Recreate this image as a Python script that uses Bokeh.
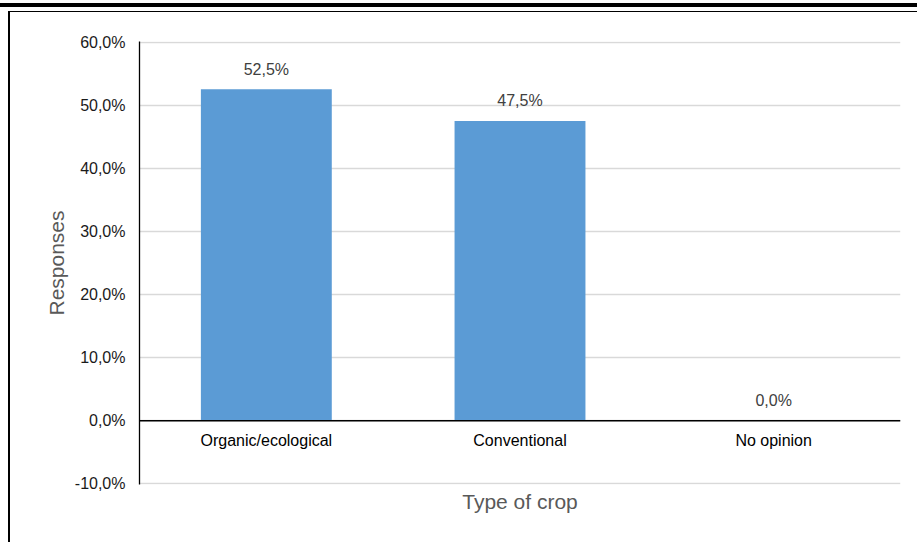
from bokeh.plotting import figure
from bokeh.models import (FactorRange, Range1d, FixedTicker, CustomJSTickFormatter,
                          ColumnDataSource, Span, Title)
from bokeh.core.properties import value
from bokeh.embed import file_html
from bokeh.resources import INLINE

categories = ["Organic/ecological", "Conventional", "No opinion"]
responses = [52.5, 47.5, 0.0]
y_ticks = [-10, 0, 10, 20, 30, 40, 50, 60]

labels = [f"{v:.1f}".replace(".", ",") + "%" for v in responses]
src = ColumnDataSource(dict(cat=categories, val=responses, lab=labels,
                            zero=[0] * len(categories)))

FONT = "Liberation Sans"
W, H = 917, 542

p = figure(width=W, height=H, x_range=FactorRange(*categories),
           y_range=Range1d(-10.08, 60.08), output_backend="svg", toolbar_location=None,
           min_border_left=139, min_border_right=W - 900, min_border_top=41,
           min_border_bottom=H - 484)
p.outline_line_color = None
p.background_fill_color = "white"
p.border_fill_color = None

# document frame lines drawn as CSS backgrounds behind the transparent border area
p.styles = {
    "background-color": "white",
    "background-image": "linear-gradient(#000,#000), linear-gradient(#000,#000), linear-gradient(#000,#000)",
    "background-size": "100% 4px, calc(100% - 8px) 1px, 2px calc(100% - 11px)",
    "background-position": "0 3px, 8px 11px, 8px 11px",
    "background-repeat": "no-repeat",
}

p.vbar(x="cat", top="val", width=0.516, source=src, color="#5b9bd5", line_color=None)

# value labels
p.text(x="cat", y="val", text="lab", source=src, text_align="center",
       text_baseline="middle", y_offset=-20, text_font=value(FONT),
       text_font_size="16px", text_color="#404040")
# category labels
p.text(x="cat", y="zero", text="cat", source=src, text_align="center",
       text_baseline="middle", y_offset=20, text_font=value(FONT),
       text_font_size="16px", text_color="#000000")

p.add_layout(Span(location=0, dimension="width", line_color="black", line_width=1.5))

p.xgrid.grid_line_color = None
p.ygrid.grid_line_color = "#d9d9d9"
p.ygrid.grid_line_width = 1.3

p.yaxis.ticker = FixedTicker(ticks=y_ticks)
p.yaxis.formatter = CustomJSTickFormatter(
    code="return tick.toFixed(1).replace('.', ',') + '%';")
p.yaxis.axis_line_color = "black"
p.yaxis.axis_line_width = 1.3
p.yaxis.major_tick_line_color = None
p.yaxis.minor_tick_line_color = None
p.yaxis.major_label_standoff = 8
p.yaxis.major_label_text_font = FONT
p.yaxis.major_label_text_font_size = "16px"
p.yaxis.major_label_text_color = "#1a1a1a"
p.yaxis.axis_label = "Responses"
p.yaxis.axis_label_text_font = FONT
p.yaxis.axis_label_text_font_size = "21px"
p.yaxis.axis_label_text_font_style = "normal"
p.yaxis.axis_label_text_color = "#595959"
p.yaxis.axis_label_standoff = 4

p.xaxis.visible = False
p.add_layout(Title(text="Type of crop", align="center", text_font=FONT,
                   text_font_size="21px", text_font_style="normal",
                   text_color="#595959", standoff=7), "below")

open("out.html", "w").write(file_html(p, INLINE))
